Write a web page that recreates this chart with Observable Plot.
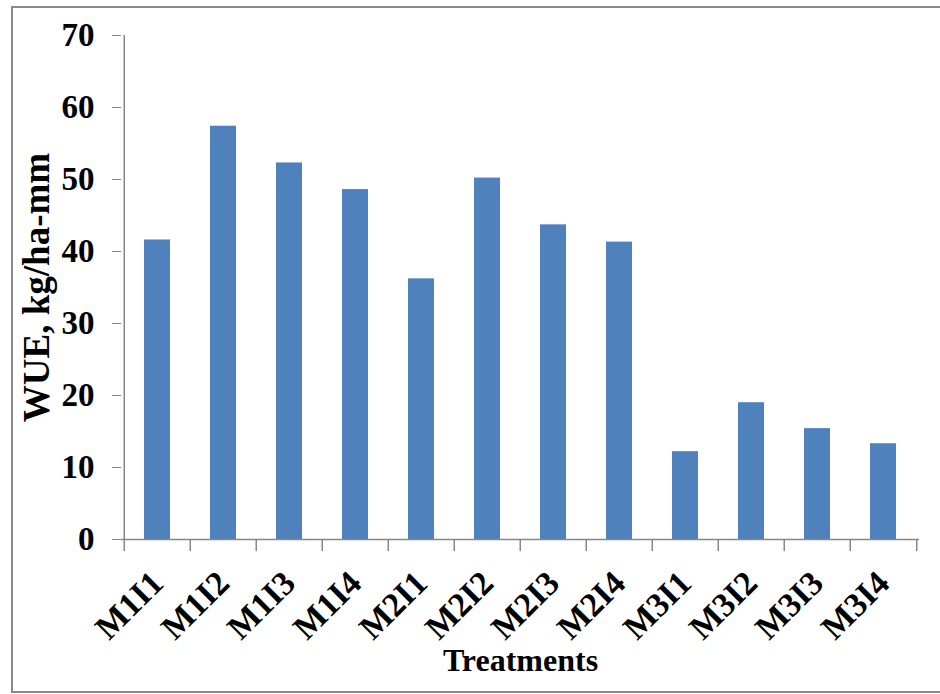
<!DOCTYPE html>
<html><head><meta charset="utf-8">
<script src="https://cdn.jsdelivr.net/npm/d3@7"></script>
<script src="https://cdn.jsdelivr.net/npm/@observablehq/plot@0.6"></script>
<style>
body{margin:0;background:#fff;}
#wrap{position:relative;width:940px;height:694px;overflow:hidden;background:#fff;}
#border{position:absolute;left:11px;top:6px;width:960px;height:687px;border:2px solid #8a8a8a;border-right:none;box-sizing:border-box;pointer-events:none;}
</style></head><body>
<div id="wrap"><div id="chart"></div><div id="border"></div></div>
<script>
const treatments = ["M1I1","M1I2","M1I3","M1I4","M2I1","M2I2","M2I3","M2I4","M3I1","M3I2","M3I3","M3I4"];
const wue = [41.6, 57.4, 52.3, 48.6, 36.2, 50.2, 43.7, 41.3, 12.2, 19.0, 15.4, 13.3];
const yTicks = [0, 10, 20, 30, 40, 50, 60, 70];
const yLabel = "WUE, kg/ha-mm";
const xLabel = "Treatments";

const data = treatments.map((t, i) => ({treatment: t, wue: wue[i]}));
const gray = "#878787";
const font = "'Liberation Serif', 'Times New Roman', serif";
const W = 940, H = 694, mL = 121, mR = 21, mT = 35, mB = 155;
const step = (W - mL - mR) / treatments.length;

const chart = Plot.plot({
  width: W, height: H, marginLeft: mL, marginRight: mR, marginTop: mT, marginBottom: mB,
  style: {fontFamily: font, fontWeight: "bold", color: "#000", background: "#fff"},
  x: {domain: treatments, paddingInner: 0.6, paddingOuter: 0.3, axis: null},
  y: {domain: [0, 70], axis: null},
  marks: [
    Plot.barY(data, {x: "treatment", y: "wue", fill: "#4F81BD"}),
    Plot.ruleY([0], {stroke: gray, strokeWidth: 1.5}),
    Plot.ruleX([treatments[0]], {dx: -step / 2, y1: 0, y2: 70, stroke: gray, strokeWidth: 1.5}),
    Plot.axisY({ticks: yTicks, tickSize: 9, tickPadding: 18, stroke: gray, fill: "#000", fontSize: 33, label: null, tickFormat: d => String(d)}),
    Plot.axisX({ticks: treatments, tickSize: 12, dx: -step / 2, stroke: gray, strokeWidth: 1.5, tickFormat: () => "", label: null}),
    Plot.axisX({ticks: [treatments[treatments.length - 1]], tickSize: 12, dx: step / 2, stroke: gray, strokeWidth: 1.5, tickFormat: () => "", label: null}),
    Plot.axisX({ticks: treatments, tickSize: 0, tickPadding: 38, tickRotate: -45, fontSize: 34, fill: "#000", label: null}),
    Plot.text([yLabel], {text: d => d, frameAnchor: "left", textAnchor: "middle", dx: -84, rotate: -90, fontSize: 37, fill: "#000"}),
    Plot.text([xLabel], {text: d => d, frameAnchor: "bottom", dy: 131, fontSize: 32, fill: "#000"})
  ]
});
document.getElementById("chart").append(chart);
</script>
</body></html>
